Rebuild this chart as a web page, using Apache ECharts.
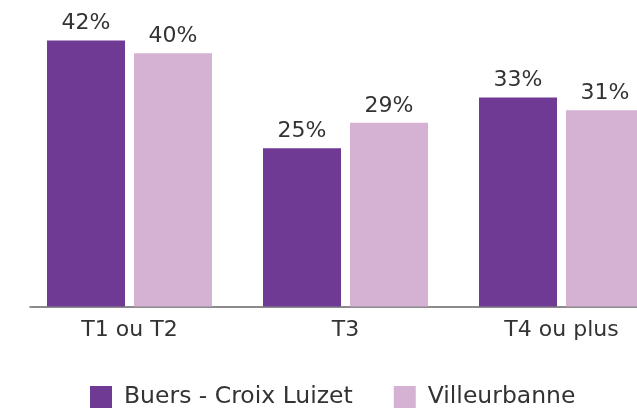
<!DOCTYPE html>
<html><head><meta charset="utf-8">
<script src="https://cdn.jsdelivr.net/npm/echarts@6/dist/echarts.min.js"></script>
<style>html,body{margin:0;padding:0;background:#fff}#c{width:637px;height:411px}</style>
</head><body><div id="c"></div>
<script>
var categories = ['T1 ou T2', 'T3', 'T4 ou plus'];
var seriesNames = ['Buers - Croix Luizet', 'Villeurbanne'];
var buers = [42, 25, 33];
var villeurbanne = [40, 29, 31];

var FONT = '"DejaVu Sans", sans-serif';
var chart = echarts.init(document.getElementById('c'), null, {renderer: 'canvas'});
chart.setOption({
  animation: false,
  color: ['#6e3a94', '#d5b1d3'],
  textStyle: {fontFamily: FONT},
  grid: [
    {left: 21.5, right: -32.5, top: 0, bottom: 104.5, outerBoundsMode: 'none', containLabel: false},
    {left: 30, right: 0, top: 0, bottom: 104.5, outerBoundsMode: 'none', containLabel: false}
  ],
  legend: {
    left: 90, top: 385, padding: 0,
    itemWidth: 22, itemHeight: 22, itemGap: 41,
    icon: 'rect',
    textStyle: {fontSize: 23.5, color: '#333', fontFamily: FONT, padding: [0, 0, 0, 7]},
    data: seriesNames
  },
  xAxis: [
    {type: 'category', gridIndex: 0, data: categories,
     axisLine: {show: false}, axisTick: {show: false},
     axisLabel: {fontSize: 22, color: '#333', margin: 13, fontFamily: FONT}},
    {type: 'category', gridIndex: 1, data: [''],
     axisLine: {show: true, lineStyle: {color: '#666', width: 1.5}},
     axisTick: {show: false}, axisLabel: {show: false}}
  ],
  yAxis: [
    {type: 'value', gridIndex: 0, min: 0, max: 48.4, show: false, splitLine: {show: false}},
    {type: 'value', gridIndex: 1, min: 0, max: 1, show: false, splitLine: {show: false}}
  ],
  series: [
    {name: seriesNames[0], type: 'bar', data: buers, barWidth: 78, barGap: '11.5%',
     label: {show: true, position: 'top', distance: 6, formatter: '{c}%', fontSize: 22, color: '#333', fontFamily: FONT}},
    {name: seriesNames[1], type: 'bar', data: villeurbanne, barWidth: 78, barGap: '11.5%',
     label: {show: true, position: 'top', distance: 6, formatter: '{c}%', fontSize: 22, color: '#333', fontFamily: FONT}}
  ]
});
</script></body></html>
